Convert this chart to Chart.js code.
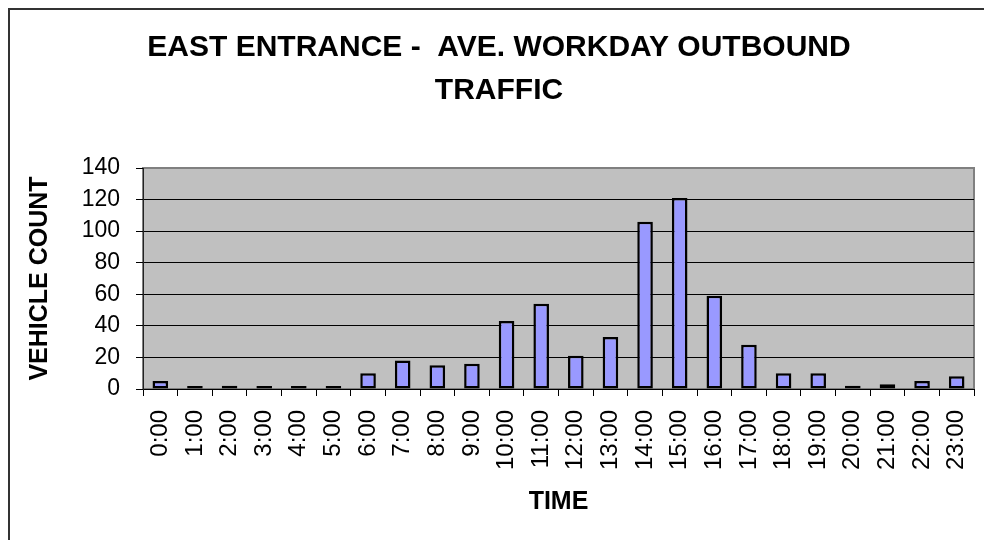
<!DOCTYPE html>
<html>
<head>
<meta charset="utf-8">
<script src="https://cdn.jsdelivr.net/npm/chart.js@4/dist/chart.umd.min.js"></script>
<style>
  html, body { margin: 0; padding: 0; background: #fff; }
  canvas { display: block; }
</style>
</head>
<body>
<canvas id="trafficChart" width="984" height="540"></canvas>
<script>
// Data
const hours = ['0:00', '1:00', '2:00', '3:00', '4:00', '5:00', '6:00', '7:00', '8:00', '9:00', '10:00', '11:00',
  '12:00', '13:00', '14:00', '15:00', '16:00', '17:00', '18:00', '19:00', '20:00', '21:00', '22:00', '23:00'];
const vehicleCounts = [5, 1, 2, 1, 1, 1, 10, 18, 15, 16, 43, 54, 21, 33, 106, 121, 59, 28, 10, 10, 2, 3, 5, 8];
const titleLines = ['EAST ENTRANCE -  AVE. WORKDAY OUTBOUND', 'TRAFFIC'];
const yTitle = 'VEHICLE COUNT';
const xTitle = 'TIME';

const FONT = "'Liberation Sans', Arial, sans-serif";

// grey plot area + outer frame (Excel style)
const plotBackground = {
  id: 'plotBackground',
  beforeDraw(chart) {
    const { ctx, chartArea: a } = chart;
    ctx.save();
    ctx.fillStyle = '#c0c0c0';
    ctx.fillRect(a.left, a.top, a.right - a.left, a.bottom - a.top);
    ctx.strokeStyle = '#808080';
    ctx.lineWidth = 2;
    ctx.strokeRect(a.left, a.top, a.right - a.left, a.bottom - a.top);
    // chart frame, runs off the right and bottom edges
    ctx.strokeStyle = '#333';
    ctx.lineWidth = 2;
    ctx.strokeRect(9, 9, chart.width + 20, chart.height + 20);
    ctx.restore();
  }
};

const ctx = document.getElementById('trafficChart').getContext('2d');
const trafficChart = new Chart(ctx, {
  type: 'bar',
  data: {
    labels: hours,
    datasets: [
      {
        data: vehicleCounts,
        backgroundColor: '#9999ff',
        borderColor: '#000',
        borderWidth: 2.5,
        borderSkipped: false,
        minBarLength: 3,
        barPercentage: 0.45,
        categoryPercentage: 1.0,
      },
    ],
  },
  options: {
    responsive: false,
    animation: false,
    devicePixelRatio: 1,
    layout: { padding: { left: 24, right: 10, top: 0, bottom: 0 } },
    plugins: {
      legend: { display: false },
      tooltip: { enabled: false },
      title: {
        display: true,
        text: titleLines,
        color: '#000',
        font: { family: FONT, size: 30, weight: 'bold', lineHeight: 43 / 30 },
        padding: { top: 26, bottom: 56 },
      },
    },
    scales: {
      x: {
        afterFit: (scale) => {
          scale.height = 151;
          scale.paddingLeft = 0;
          scale.paddingRight = 0;
        },
        grid: {
          offset: true,
          drawOnChartArea: false,
          drawTicks: true,
          tickLength: 7,
          tickColor: '#000',
        },
        border: { color: '#000', width: 1 },
        ticks: {
          color: '#000',
          font: { family: FONT, size: 24 },
          minRotation: 90,
          maxRotation: 90,
          autoSkip: false,
          padding: 14,
        },
        title: {
          display: true,
          text: xTitle,
          color: '#000',
          font: { family: FONT, size: 25, weight: 'bold', lineHeight: 1.2 },
          padding: { top: 0, bottom: 23 },
        },
      },
      y: {
        min: 0,
        max: 140,
        afterFit: (scale) => { scale.width = 119; },
        grid: {
          color: (c) => (c.tick && c.tick.value === 140 ? '#808080' : '#000'),
          lineWidth: 1,
          tickLength: 7,
          tickColor: '#000',
        },
        border: { color: '#222', width: 1 },
        ticks: {
          stepSize: 20,
          color: '#000',
          font: { family: FONT, size: 23 },
          padding: 16,
        },
        title: {
          display: true,
          text: yTitle,
          color: '#000',
          font: { family: FONT, size: 25, weight: 'bold', lineHeight: 1.2 },
          padding: { top: 1, bottom: 0 },
        },
      },
    },
  },
  plugins: [plotBackground],
});
</script>
</body>
</html>
